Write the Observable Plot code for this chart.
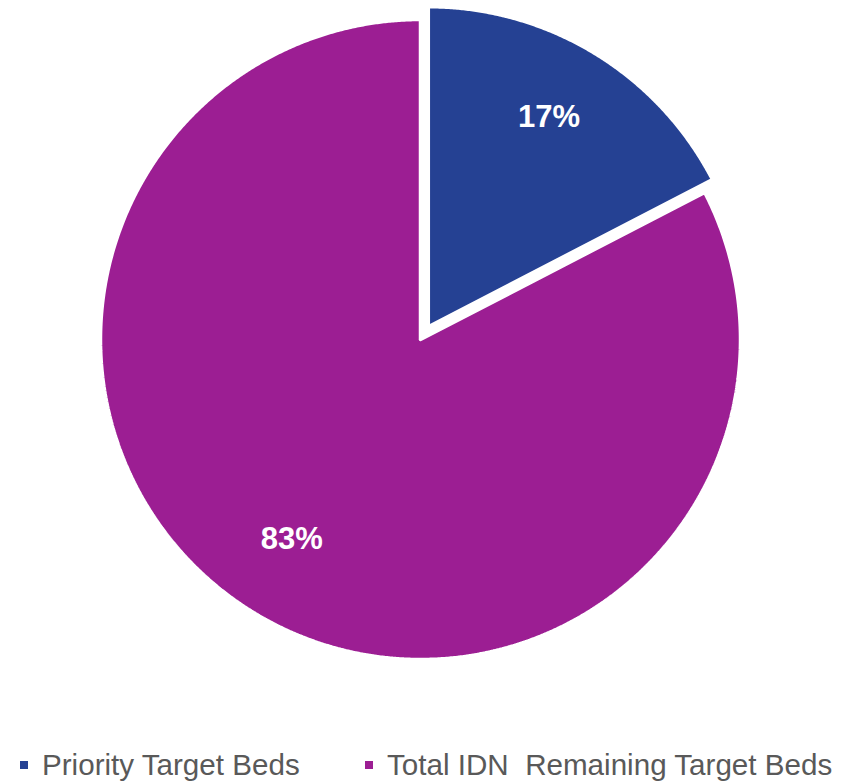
<!DOCTYPE html>
<html>
<head>
<meta charset="utf-8">
<script src="https://cdn.jsdelivr.net/npm/d3@7"></script>
<script src="https://cdn.jsdelivr.net/npm/@observablehq/plot@0.6"></script>
<style>
  html, body { margin: 0; padding: 0; background: #fff; }
  #chart { width: 858px; }
  .legend { height: 52px; font-family: "Liberation Sans", Arial, sans-serif; font-size: 29.6px; color: #595959; position: relative; }
  .legend .item { display: flex; align-items: center; position: absolute; line-height: 1; }
  .legend .sw { width: 8px; height: 8px; margin-right: 14px; }
</style>
</head>
<body>
<div id="chart"></div>
<script>
const categories = ["Priority Target Beds", "Total IDN  Remaining Target Beds"];
const values = [17.4, 82.6];
const labels = ["17%", "83%"];
const colors = ["#254193", "#9C1E93"];
const explode = [15, 0];

const R = 320;
const pie = d3.pie().sort(null).value(d => d.value)(categories.map((c, i) => ({cat: c, value: values[i], i})));

const pts = [];
const lab = [];
for (const s of pie) {
  const i = s.data.i;
  const mid = (s.startAngle + s.endAngle) / 2;
  const ox = explode[i] * Math.sin(mid), oy = -explode[i] * Math.cos(mid);
  pts.push({cat: s.data.cat, x: ox, y: oy});
  const n = Math.max(2, Math.ceil((s.endAngle - s.startAngle) / 0.005));
  for (let k = 0; k <= n; k++) {
    const a = s.startAngle + (s.endAngle - s.startAngle) * k / n;
    pts.push({cat: s.data.cat, x: ox + R * Math.sin(a), y: oy - R * Math.cos(a)});
  }
  pts.push({cat: s.data.cat, x: ox, y: oy});
  const lr = 0.75 * R;
  lab.push({text: labels[i], x: ox + lr * Math.sin(mid), y: oy - lr * Math.cos(mid)});
}

const chart = Plot.plot({
  width: 858,
  height: 730,
  margin: 0,
  x: {domain: [-420, 438], range: [0, 858], axis: null},
  y: {domain: [-339, 391], range: [0, 730], axis: null},
  color: {domain: categories, range: colors},
  marks: [
    Plot.line(pts, {x: "x", y: "y", z: "cat", fill: "cat", stroke: "white", strokeWidth: 3.5, strokeLinejoin: "miter", curve: "linear"}),
    Plot.text(lab, {x: "x", y: "y", dx: -4, dy: -5, text: "text", fill: "white", fontSize: 31, fontWeight: "bold", fontFamily: "'Liberation Sans', Arial, sans-serif"})
  ]
});
document.getElementById("chart").appendChild(chart);

const leg = document.createElement("div");
leg.className = "legend";
const xs = [20, 365];
categories.forEach((c, i) => {
  const it = document.createElement("div");
  it.className = "item";
  it.style.left = xs[i] + "px";
  it.style.top = "20px";
  const sw = document.createElement("span");
  sw.className = "sw";
  sw.style.background = colors[i];
  const t = document.createElement("span");
  t.textContent = c;
  t.style.whiteSpace = "pre";
  it.appendChild(sw); it.appendChild(t);
  leg.appendChild(it);
});
document.body.appendChild(leg);
</script>
</body>
</html>
